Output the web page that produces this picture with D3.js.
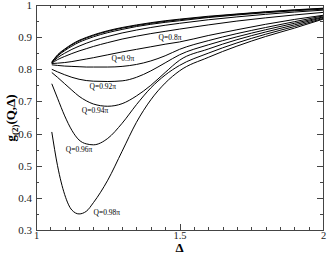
<!DOCTYPE html>
<html>
<head>
<meta charset="utf-8">
<title>g2 curves</title>
<script src="https://d3js.org/d3.v7.min.js"></script>
<style type="text/css">
    body { margin: 0; background: #fff; }
    .axis path, .axis line { fill: none; stroke: #444; shape-rendering: crispEdges; }
    .axis text { font-family: "Liberation Serif", "DejaVu Serif", serif; font-size: 11px; fill: #222; }
    .curve { fill: none; stroke: #000; stroke-width: 1; }
    .lab { font-family: "Liberation Serif", "DejaVu Serif", serif; font-size: 7.5px; fill: #000; }
</style>
</head>
<body>
<script>
    // Delta grid shared by all curves
    var delta = [1.055, 1.075, 1.1, 1.125, 1.15, 1.175, 1.2, 1.25, 1.3, 1.35, 1.4, 1.45, 1.5, 1.6, 1.7, 1.8, 1.9, 2.0];

    // g2 values, one array per curve (top to bottom)
    var up1 = [0.822, 0.845, 0.863, 0.878, 0.890, 0.899, 0.907, 0.920, 0.930, 0.938, 0.945, 0.951, 0.956, 0.965, 0.972, 0.979, 0.985, 0.990];
    var up2 = [0.822, 0.843, 0.861, 0.876, 0.888, 0.897, 0.905, 0.918, 0.928, 0.936, 0.943, 0.949, 0.954, 0.963, 0.971, 0.978, 0.984, 0.989];
    var up3 = [0.821, 0.841, 0.858, 0.872, 0.884, 0.893, 0.901, 0.914, 0.924, 0.933, 0.940, 0.946, 0.951, 0.961, 0.969, 0.976, 0.982, 0.987];
    var up4 = [0.820, 0.836, 0.850, 0.862, 0.872, 0.881, 0.889, 0.902, 0.913, 0.922, 0.930, 0.937, 0.943, 0.954, 0.963, 0.971, 0.978, 0.984];
    var q080 = [0.819, 0.830, 0.840, 0.849, 0.857, 0.864, 0.871, 0.883, 0.894, 0.903, 0.911, 0.918, 0.925, 0.938, 0.950, 0.960, 0.969, 0.977];
    var low1 = [0.818, 0.819, 0.821, 0.824, 0.828, 0.832, 0.836, 0.845, 0.854, 0.862, 0.870, 0.878, 0.885, 0.905, 0.923, 0.940, 0.955, 0.968];
    var q090 = [0.814, 0.812, 0.810, 0.809, 0.808, 0.807, 0.807, 0.807, 0.809, 0.815, 0.826, 0.842, 0.862, 0.889, 0.911, 0.930, 0.948, 0.966];
    var q092 = [0.800, 0.792, 0.783, 0.775, 0.769, 0.765, 0.763, 0.762, 0.764, 0.775, 0.795, 0.820, 0.845, 0.876, 0.901, 0.923, 0.943, 0.963];
    var q094 = [0.790, 0.775, 0.755, 0.735, 0.716, 0.702, 0.692, 0.685, 0.693, 0.717, 0.750, 0.790, 0.828, 0.863, 0.892, 0.916, 0.938, 0.961];
    var q096 = [0.755, 0.710, 0.655, 0.610, 0.580, 0.568, 0.565, 0.585, 0.632, 0.690, 0.742, 0.782, 0.812, 0.850, 0.882, 0.909, 0.933, 0.958];
    var q098 = [0.605, 0.500, 0.410, 0.362, 0.350, 0.358, 0.385, 0.455, 0.545, 0.635, 0.705, 0.757, 0.795, 0.837, 0.872, 0.902, 0.928, 0.956];
    var series = [up1, up2, up3, up4, q080, low1, q090, q092, q094, q096, q098];

    // curve labels: text, delta, value
    var labelText  = ["Q=0.8\u03c0", "Q=0.9\u03c0", "Q=0.92\u03c0", "Q=0.94\u03c0", "Q=0.96\u03c0", "Q=0.98\u03c0"];
    var labelDelta = [1.467, 1.303, 1.233, 1.206, 1.150, 1.247];
    var labelValue = [0.900, 0.833, 0.745, 0.673, 0.552, 0.356];

    var xTicks = [1, 1.5, 2];
    var yTicks = [0.3, 0.4, 0.5, 0.6, 0.7, 0.8, 0.9, 1];

    var w = 327, h = 254;
    var padL = 36, padR = 323, padT = 5, padB = 230;

    var xScale = d3.scaleLinear().domain([1, 2]).range([padL, padR]);
    var yScale = d3.scaleLinear().domain([0.3, 1]).range([padB, padT]);

    var svg = d3.select("body").append("svg")
                .attr("width", w)
                .attr("height", h);
    svg.append("rect").attr("width", w).attr("height", h).attr("fill", "#fff");

    svg.append("clipPath").attr("id", "clip")
        .append("rect")
        .attr("x", padL).attr("y", padT)
        .attr("width", padR - padL).attr("height", padB - padT);

    var line = d3.line()
                 .x(function(d, i){ return xScale(delta[i]); })
                 .y(function(d){ return yScale(d); })
                 .curve(d3.curveMonotoneX);

    svg.append("g").attr("clip-path", "url(#clip)")
        .selectAll("path")
        .data(series)
        .enter()
        .append("path")
        .attr("class", "curve")
        .attr("d", line);

    // minor ticks every 0.05
    var xMinor = d3.range(1, 2.0001, 0.05);
    var yMinor = d3.range(0.3, 1.0001, 0.05);
    var fmt = function(d){ return String(+d.toFixed(2)); };

    function axisG(axis, tx, ty){
        return svg.append("g").attr("class", "axis")
                  .attr("transform", "translate(" + tx + "," + ty + ")")
                  .call(axis);
    }
    // bottom
    axisG(d3.axisBottom(xScale).tickValues(xMinor).tickSize(-3).tickFormat(""), 0, padB);
    axisG(d3.axisBottom(xScale).tickValues(xTicks).tickSize(-6).tickPadding(2).tickFormat(fmt), 0, padB)
        .selectAll("text").style("font-size", "10.5px");
    // top
    axisG(d3.axisTop(xScale).tickValues(xMinor).tickSize(-3).tickFormat(""), 0, padT);
    axisG(d3.axisTop(xScale).tickValues(xTicks).tickSize(-6).tickFormat(""), 0, padT);
    // left
    axisG(d3.axisLeft(yScale).tickValues(yMinor).tickSize(-3).tickFormat(""), padL, 0);
    axisG(d3.axisLeft(yScale).tickValues(yTicks).tickSize(-6).tickPadding(4).tickFormat(fmt), padL, 0);
    // right
    axisG(d3.axisRight(yScale).tickValues(yMinor).tickSize(-3).tickFormat(""), padR, 0);
    axisG(d3.axisRight(yScale).tickValues(yTicks).tickSize(-6).tickFormat(""), padR, 0);

    svg.selectAll(".axis .domain").attr("stroke", "#444");
    svg.selectAll(".axis text").attr("fill", "#222");

    // curve labels
    svg.selectAll("text.lab")
        .data(labelText)
        .enter()
        .append("text")
        .attr("class", "lab")
        .attr("x", function(d, i){ return xScale(labelDelta[i]); })
        .attr("y", function(d, i){ return yScale(labelValue[i]); })
        .attr("text-anchor", "middle")
        .attr("dominant-baseline", "central")
        .text(function(d){ return d; });

    // axis titles
    svg.append("text")
        .attr("x", xScale(1.5)).attr("y", 252)
        .attr("text-anchor", "middle")
        .attr("font-family", "Liberation Serif, DejaVu Serif, serif")
        .attr("font-size", "13px").attr("font-weight", "bold")
        .text("\u0394");

    var yt = svg.append("text")
        .attr("transform", "translate(15,118) rotate(-90)")
        .attr("text-anchor", "middle")
        .attr("font-family", "Liberation Serif, DejaVu Serif, serif")
        .attr("font-size", "13px").attr("font-weight", "bold");
    yt.append("tspan").text("g");
    yt.append("tspan").attr("font-size", "9px").attr("dy", "3").text("(2)");
    yt.append("tspan").attr("dy", "-3").text("(Q,\u0394)");
</script>
</body>
</html>
